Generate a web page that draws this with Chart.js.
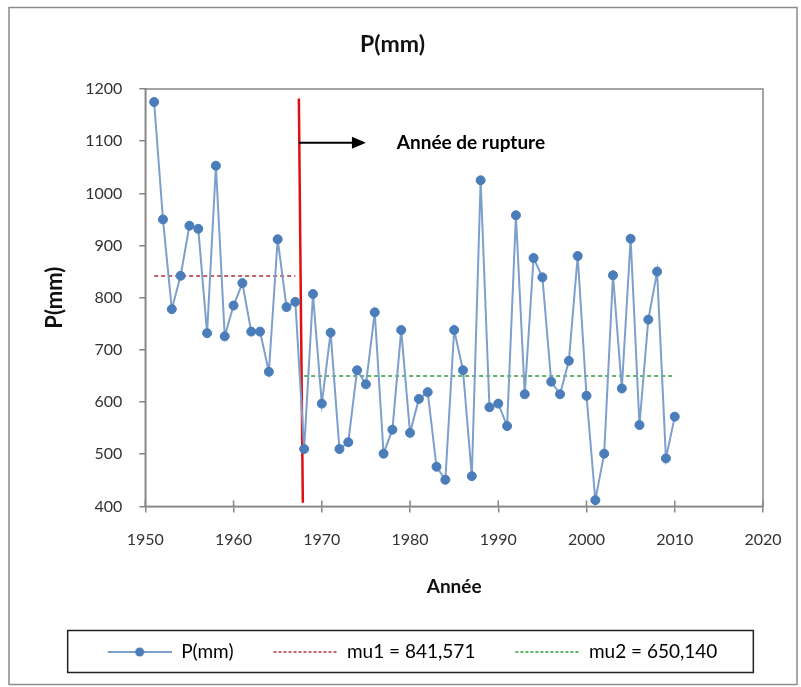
<!DOCTYPE html>
<html>
<head>
<meta charset="utf-8">
<script src="https://cdn.jsdelivr.net/npm/chart.js@4"></script>
<style>
  html, body { margin: 0; padding: 0; background: #ffffff; }
  #cadre { width: 801px; height: 687px; }
</style>
</head>
<body>
<div id="cadre"><canvas id="graf_pluie"></canvas></div>
<script>
// années et précipitations annuelles P(mm)
const annees = [1951, 1952, 1953, 1954, 1955, 1956, 1957, 1958, 1959, 1960,
  1961, 1962, 1963, 1964, 1965, 1966, 1967, 1968, 1969, 1970,
  1971, 1972, 1973, 1974, 1975, 1976, 1977, 1978, 1979, 1980,
  1981, 1982, 1983, 1984, 1985, 1986, 1987, 1988, 1989, 1990,
  1991, 1992, 1993, 1994, 1995, 1996, 1997, 1998, 1999, 2000,
  2001, 2002, 2003, 2004, 2005, 2006, 2007, 2008, 2009, 2010];
const pluie = [1175, 950, 778, 842, 938, 932, 732, 1053, 726, 785,
  828, 735, 735, 658, 912, 782, 792, 510, 807, 597,
  733, 510, 523, 661, 634, 772, 501, 547, 738, 541,
  606, 619, 476, 451, 738, 661, 458, 1025, 590, 597,
  554, 958, 615, 876, 839, 639, 615, 679, 880, 612,
  412, 501, 843, 626, 913, 556, 758, 850, 492, 572];

// moyennes avant / après la rupture
const mu1 = 841.571;
const mu2 = 650.140;
const periode1 = [1951, 1967];
const periode2 = [1968, 2010];

// trait rouge de la rupture (x, y)
const ruptureX = [1967.4, 1967.85];
const ruptureY = [1182, 407];

// flèche + texte
const flecheX = [1967.4, 1975.0];
const flecheY = 1097;
const texteX = 1978.5;
const texteRupture = 'Année de rupture';

// axes
const xMin = 1950, xMax = 2020, xPas = 10;
const yMin = 400, yMax = 1200, yPas = 100;

const police = 'Lato, "Liberation Sans", sans-serif';

// petits dessins de la légende (marge transparente à gauche)
function echantillon(couleur, tirets, avecPoint) {
  const c = document.createElement('canvas');
  c.width = 104;
  c.height = 12;
  const ctx = c.getContext('2d');
  ctx.strokeStyle = couleur;
  ctx.lineWidth = avecPoint ? 2 : 1.5;
  ctx.setLineDash(tirets);
  ctx.beginPath();
  ctx.moveTo(40, 6);
  ctx.lineTo(104, 6);
  ctx.stroke();
  if (avecPoint) {
    ctx.fillStyle = '#4a7dba';
    ctx.beginPath();
    ctx.arc(72, 6, 4.5, 0, Math.PI * 2);
    ctx.fill();
  }
  return c;
}

const cadres = {
  id: 'cadres',
  beforeDraw(chart) {
    const ctx = chart.ctx;
    ctx.save();
    ctx.strokeStyle = '#8c8c8c';
    ctx.lineWidth = 1.5;
    ctx.strokeRect(9, 7.5, 788, 677);
    ctx.restore();
  },
  afterDraw(chart) {
    const ctx = chart.ctx;
    const a = chart.chartArea;
    const x = chart.scales.x, y = chart.scales.y;
    ctx.save();
    // bord de la zone de tracé
    ctx.strokeStyle = '#868686';
    ctx.lineWidth = 1.5;
    ctx.strokeRect(a.left, a.top, a.right - a.left, a.bottom - a.top);
    // graduations de l'axe X qui traversent l'axe
    x.ticks.forEach(t => {
      const px = x.getPixelForValue(t.value);
      ctx.beginPath();
      ctx.moveTo(px, a.bottom);
      ctx.lineTo(px, a.bottom - 6);
      ctx.stroke();
    });

    // flèche
    const yF = y.getPixelForValue(flecheY);
    const x0 = x.getPixelForValue(flecheX[0]);
    const x1 = x.getPixelForValue(flecheX[1]);
    ctx.strokeStyle = '#000';
    ctx.fillStyle = '#000';
    ctx.lineWidth = 2;
    ctx.beginPath();
    ctx.moveTo(x0, yF);
    ctx.lineTo(x1 - 12, yF);
    ctx.stroke();
    ctx.beginPath();
    ctx.moveTo(x1, yF);
    ctx.lineTo(x1 - 14, yF - 6);
    ctx.lineTo(x1 - 14, yF + 6);
    ctx.closePath();
    ctx.fill();

    ctx.font = 'bold 19px ' + police;
    ctx.textBaseline = 'middle';
    ctx.textAlign = 'left';
    ctx.fillText(texteRupture, x.getPixelForValue(texteX), yF);

    // cadre de la légende
    const hb = chart.legend.legendHitBoxes;
    if (hb && hb.length) {
      const g = hb[0].left + 40 - 40;
      const d = hb[hb.length - 1].left + hb[hb.length - 1].width + 36;
      ctx.strokeStyle = '#222';
      ctx.lineWidth = 1.5;
      ctx.strokeRect(g, hb[0].top - 12, d - g, hb[0].height + 23);
    }
    ctx.restore();
  }
};

new Chart(document.getElementById('graf_pluie'), {
  type: 'line',
  data: {
    datasets: [{
      label: 'P(mm)',
      data: annees.map((a, i) => ({x: a, y: pluie[i]})),
      borderColor: '#7d9fcc',
      borderWidth: 2,
      backgroundColor: '#4a7dba',
      pointBackgroundColor: '#4a7dba',
      pointBorderColor: '#4a7dba',
      pointRadius: 4.5,
      pointBorderWidth: 1,
      tension: 0
    }, {
      label: 'mu1 = 841,571',
      data: periode1.map(a => ({x: a, y: mu1})),
      borderColor: '#b0303a',
      borderWidth: 1.5,
      borderDash: [4, 3],
      pointRadius: 0
    }, {
      label: 'mu2 = 650,140',
      data: periode2.map(a => ({x: a, y: mu2})),
      borderColor: '#2f9a3a',
      borderWidth: 1.5,
      borderDash: [4, 3],
      pointRadius: 0
    }, {
      label: 'rupture',
      data: ruptureX.map((a, i) => ({x: a, y: ruptureY[i]})),
      borderColor: '#e01010',
      borderWidth: 2.5,
      pointRadius: 0
    }]
  },
  options: {
    responsive: true,
    maintainAspectRatio: false,
    animation: false,
    layout: { padding: { left: 22, right: 38, top: 0, bottom: 15.5 } },
    plugins: {
      tooltip: { enabled: false },
      title: {
        display: true,
        text: 'P(mm)',
        color: '#111',
        font: { family: police, size: 23, weight: 'bold' },
        padding: { top: 31.2, bottom: 30.2 }
      },
      legend: {
        position: 'bottom',
        labels: {
          usePointStyle: true,
          pointStyleWidth: 104,
          padding: 0,
          color: '#222',
          font: { family: police, size: 19 },
          generateLabels: () => [
            { text: 'P(mm)', pointStyle: echantillon('#7d9fcc', [], true), datasetIndex: 0, lineWidth: 0 },
            { text: 'mu1 = 841,571', pointStyle: echantillon('#b0303a', [3, 2], false), datasetIndex: 1, lineWidth: 0 },
            { text: 'mu2 = 650,140', pointStyle: echantillon('#2f9a3a', [3, 2], false), datasetIndex: 2, lineWidth: 0 }
          ]
        }
      }
    },
    scales: {
      x: {
        type: 'linear',
        min: xMin,
        max: xMax,
        ticks: {
          stepSize: xPas,
          padding: 18,
          color: '#333',
          font: { family: police, size: 16 },
          callback: v => String(v)
        },
        grid: { drawOnChartArea: false, tickLength: 6, color: '#868686', lineWidth: 1.5 },
        border: { color: '#868686', width: 1.5 },
        title: {
          display: true,
          text: 'Année',
          color: '#111',
          font: { family: police, size: 19, weight: 'bold' },
          padding: { top: 8, bottom: 44.1 }
        }
      },
      y: {
        min: yMin,
        max: yMax,
        ticks: {
          stepSize: yPas,
          padding: 17,
          color: '#333',
          font: { family: police, size: 16 },
          callback: v => String(v)
        },
        grid: { drawOnChartArea: false, tickLength: 6, color: '#868686', lineWidth: 1.5 },
        border: { color: '#868686', width: 1.5 },
        title: {
          display: true,
          text: 'P(mm)',
          color: '#111',
          font: { family: police, size: 22, weight: 'bold' },
          padding: { top: 19.8, bottom: 0 }
        }
      }
    }
  },
  plugins: [cadres]
});
</script>
</body>
</html>
